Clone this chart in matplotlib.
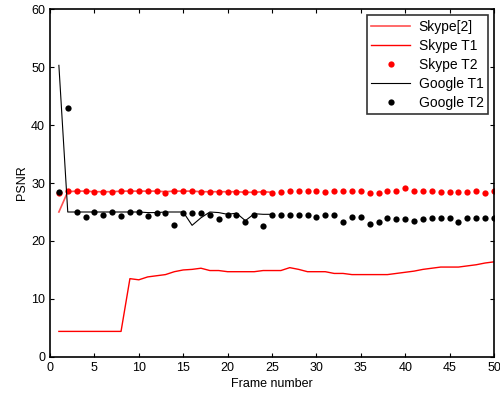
import matplotlib
matplotlib.use('Agg')
import matplotlib.pyplot as plt
import numpy as np

plt.rcParams['font.family'] = 'Liberation Sans'

frames = np.arange(1, 51)
frames_ref = np.arange(1, 26)

# Skype[2] (line along the T2 dots, first 25 frames)
skype_ref = [25.0, 28.5, 28.6, 28.6, 28.5, 28.5, 28.5, 28.6, 28.6, 28.6,
             28.6, 28.6, 28.5, 28.6, 28.6, 28.6, 28.5, 28.5, 28.5, 28.5,
             28.5, 28.4, 28.4, 28.5, 28.4]
# Skype T1 (lower curve)
skype_t1 = [4.4, 4.4, 4.4, 4.4, 4.4, 4.4, 4.4, 4.4, 13.5, 13.3,
            13.8, 14.0, 14.2, 14.7, 15.0, 15.1, 15.3, 14.9, 14.9, 14.7,
            14.7, 14.7, 14.7, 14.9, 14.9, 14.9, 15.4, 15.1, 14.7, 14.7,
            14.7, 14.4, 14.4, 14.2, 14.2, 14.2, 14.2, 14.2, 14.4, 14.6,
            14.8, 15.1, 15.3, 15.5, 15.5, 15.5, 15.7, 15.9, 16.2, 16.4]
skype_t2 = [28.2, 28.6, 28.7, 28.7, 28.5, 28.5, 28.5, 28.7, 28.7, 28.7,
            28.7, 28.7, 28.3, 28.7, 28.7, 28.7, 28.5, 28.5, 28.5, 28.5,
            28.5, 28.4, 28.4, 28.5, 28.3, 28.4, 28.6, 28.6, 28.6, 28.6,
            28.4, 28.6, 28.6, 28.6, 28.6, 28.3, 28.3, 28.6, 28.6, 29.1,
            28.6, 28.6, 28.6, 28.4, 28.4, 28.4, 28.4, 28.6, 28.3, 28.6]
google_t1 = [50.3, 25.0, 25.0, 25.0, 25.0, 25.0, 25.0, 25.0, 25.0, 25.0,
             24.9, 24.9, 25.0, 25.0, 25.0, 22.7, 24.0, 25.0, 24.9, 24.6,
             24.8, 23.5, 24.7, 24.6, 24.6]
google_t2 = [28.5, 43.0, 25.0, 24.2, 25.0, 24.5, 25.0, 24.3, 25.0, 25.0,
             24.3, 24.8, 24.8, 22.8, 24.8, 24.8, 24.8, 24.5, 23.8, 24.5,
             24.5, 23.3, 24.5, 22.6, 24.4, 24.4, 24.4, 24.4, 24.4, 24.1,
             24.4, 24.4, 23.2, 24.2, 24.2, 22.9, 23.2, 24.0, 23.8, 23.8,
             23.5, 23.8, 24.0, 24.0, 24.0, 23.3, 24.0, 24.0, 24.0, 24.0]

fig = plt.figure(figsize=(5, 3.97), dpi=100)
ax = fig.add_axes([0.1, 0.101, 0.888, 0.876])

ax.plot(frames_ref, skype_ref, color='#ff5050', lw=1.2, label='Skype[2]')
ax.plot(frames, skype_t1, color='red', lw=1, label='Skype T1')
ax.plot(frames, skype_t2, 'o', color='red', ms=4.5, mew=0, label='Skype T2')
ax.plot(frames_ref, google_t1, color='black', lw=0.8, label='Google T1')
ax.plot(frames, google_t2, 'o', color='black', ms=4.5, mew=0, label='Google T2')

ax.set_xlim(0, 50)
ax.set_ylim(0, 60)
ax.set_xticks(range(0, 51, 5))
ax.set_yticks(range(0, 61, 10))
ax.tick_params(direction='in', top=True, right=True, labelsize=9, length=3, width=0.8)
for s in ax.spines.values():
    s.set_linewidth(1.2)
ax.set_xlabel('Frame number', fontsize=9, labelpad=3)
ax.set_ylabel('PSNR', fontsize=9, labelpad=2)

leg = ax.legend(loc='upper right', fontsize=10, frameon=True, fancybox=False,
                edgecolor='black', borderaxespad=0.45, handlelength=2.8,
                labelspacing=0.36, borderpad=0.3, handletextpad=0.6)
leg.get_frame().set_linewidth(1.2)

fig.savefig('out.png', dpi=100)
